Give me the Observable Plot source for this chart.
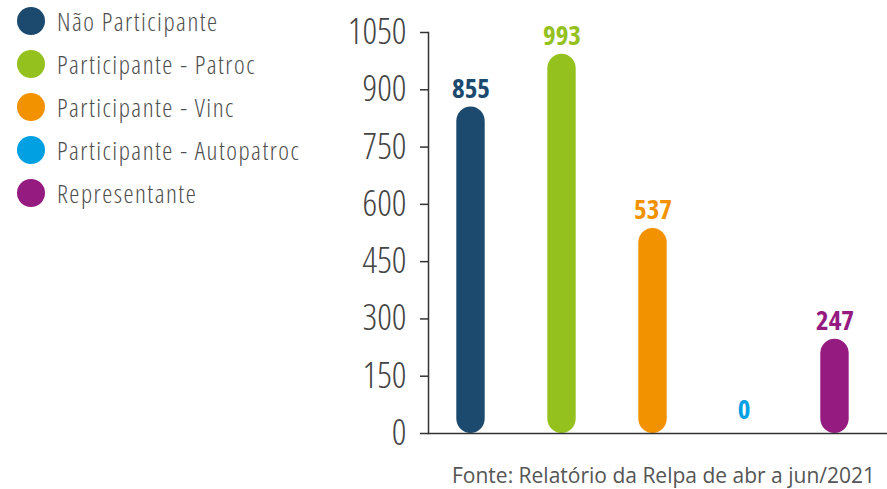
<!DOCTYPE html>
<html>
<head>
<meta charset="utf-8">
<script src="https://cdn.jsdelivr.net/npm/d3@7"></script>
<script src="https://cdn.jsdelivr.net/npm/@observablehq/plot@0.6"></script>
<style>
  html, body { margin: 0; padding: 0; background: #fff; }
  #wrap { position: relative; width: 887px; height: 489px; overflow: hidden; font-family: "Open Sans", sans-serif; }
  #chart { position: absolute; left: 0; top: 0; }
  #legend { position: absolute; left: 17px; top: -1px; }
  .item { display: flex; align-items: center; height: 43px; margin: 0; }
  .dot { width: 28px; height: 28px; border-radius: 50%; margin-right: 12px; flex: none; }
  .lab { font-family: "Open Sans", sans-serif; font-weight: 300; font-stretch: 75%; font-size: 25.5px; letter-spacing: 1.5px; color: #4d4d4d; white-space: nowrap; line-height: 28px; }
  #caption { position: absolute; right: 12px; top: 461px; font-family: "Open Sans", sans-serif; font-size: 21px; line-height: 28px; color: #555; white-space: nowrap; }
  g[aria-label="y-axis tick label"] text { font-stretch: 75%; font-weight: 300; }
  g[aria-label="text"] text { font-stretch: 75%; font-weight: 700; }
</style>
</head>
<body>
<div id="wrap">
  <div id="chart"></div>
  <div id="legend"></div>
  <div id="caption"></div>
</div>
<script>
const categories = ["Não Participante", "Participante - Patroc", "Participante - Vinc", "Participante - Autopatroc", "Representante"];
const values = [855, 993, 537, 0, 247];
const colors = ["#1b4a6e", "#95c11f", "#f39200", "#00a0e3", "#951b81"];
const yTicks = [0, 150, 300, 450, 600, 750, 900, 1050];
const captionText = "Fonte: Relatório da Relpa de abr a jun/2021";

const data = categories.map((c, i) => ({category: c, value: values[i]}));

const plot = Plot.plot({
  width: 887,
  height: 445,
  marginLeft: 428,
  marginRight: 0,
  marginTop: 32,
  marginBottom: 12,
  style: {fontFamily: "Open Sans, sans-serif", color: "#333", background: "transparent", overflow: "visible"},
  x: {domain: categories, range: [423, 881], padding: 0, axis: null},
  y: {domain: [0, 1050], axis: null},
  color: {domain: categories, range: colors},
  marks: [
    Plot.barY(data, {x: "category", y: "value", fill: "category", insetLeft: 31.3, insetRight: 31.3, rx: 14.5}),
    Plot.text(data, {filter: d => d.value > 0, x: "category", y: "value", text: d => String(d.value), fill: "category", lineAnchor: "bottom", dy: -9, fontSize: 27, fontWeight: 700}),
    Plot.text(data, {filter: d => d.value === 0, x: "category", y: "value", text: d => String(d.value), fill: "category", lineAnchor: "bottom", dy: -15, fontSize: 27, fontWeight: 700}),
    Plot.axisY(yTicks, {anchor: "left", label: null, tickSize: 8, tickPadding: 14, fontSize: 36, stroke: "#333", fill: "#444", strokeWidth: 1.5, tickFormat: d => String(d)}),
    Plot.frame({anchor: "left", stroke: "#333", strokeWidth: 1.5}),
    Plot.ruleY([0], {stroke: "#333", strokeWidth: 1.5})
  ]
});
document.getElementById("chart").appendChild(plot);

const legend = document.getElementById("legend");
categories.forEach((c, i) => {
  const item = document.createElement("div");
  item.className = "item";
  const dot = document.createElement("span");
  dot.className = "dot";
  dot.style.background = colors[i];
  const lab = document.createElement("span");
  lab.className = "lab";
  lab.textContent = c;
  item.appendChild(dot);
  item.appendChild(lab);
  legend.appendChild(item);
});
document.getElementById("caption").textContent = captionText;
</script>
</body>
</html>
